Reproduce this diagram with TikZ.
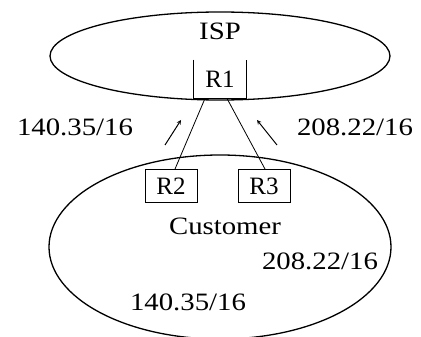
\documentclass[tikz,border=0pt]{standalone}
\usepackage{fontspec}
\setmainfont{Liberation Serif}
\usetikzlibrary{shapes.geometric}

\begin{document}
\begin{tikzpicture}[x=1pt,y=-1pt,
    net/.style={draw,ellipse,line width=1.3pt,inner sep=0pt},
    router/.style={draw,line width=.9pt,minimum width=52pt,minimum height=33pt,font=\fontsize{25}{28}\selectfont},
    lab/.style={font=\fontsize{25}{28}\selectfont,xscale=1.15},
    link/.style={line width=.8pt},
    hint/.style={line width=1pt,-stealth}]
  \useasboundingbox (0,0) rectangle (421,337);
  \node[net,minimum width=340pt,minimum height=88pt] (isp) at (220,56) {};
  \node[net,minimum width=342pt,minimum height=184pt] (cust) at (220,247) {};
  \node[lab] (ispname) at (220,31) {ISP};
  \node[lab] (custname) at (225,226) {Customer};
  \node[router,draw=none,minimum height=38pt] (r1) at (220,79) {R1};
  \draw[line width=.9pt] (r1.north west) -- (r1.south west) -- (r1.south east) -- (r1.north east);
  \node[router] (r2) at (171,186) {R2};
  \node[router] (r3) at (264,186) {R3};
  \draw[link] ([xshift=-15pt]r1.south) -- ([xshift=4pt]r2.north);
  \draw[link] ([xshift=7pt]r1.south) -- ([xshift=1pt]r3.north);
  \node[lab] (left) at (75,127) {140.35/16};
  \node[lab] (right) at (355,127) {208.22/16};
  \node[lab] (inright) at (320,261) {208.22/16};
  \node[lab] (inleft) at (188,302) {140.35/16};
  \coordinate (a1) at (165,145);
  \coordinate (a2) at (181,120);
  \coordinate (b1) at (277,145);
  \coordinate (b2) at (257,120);
  \draw[hint] (a1) -- (a2);
  \draw[hint] (b1) -- (b2);
\end{tikzpicture}
\end{document}
